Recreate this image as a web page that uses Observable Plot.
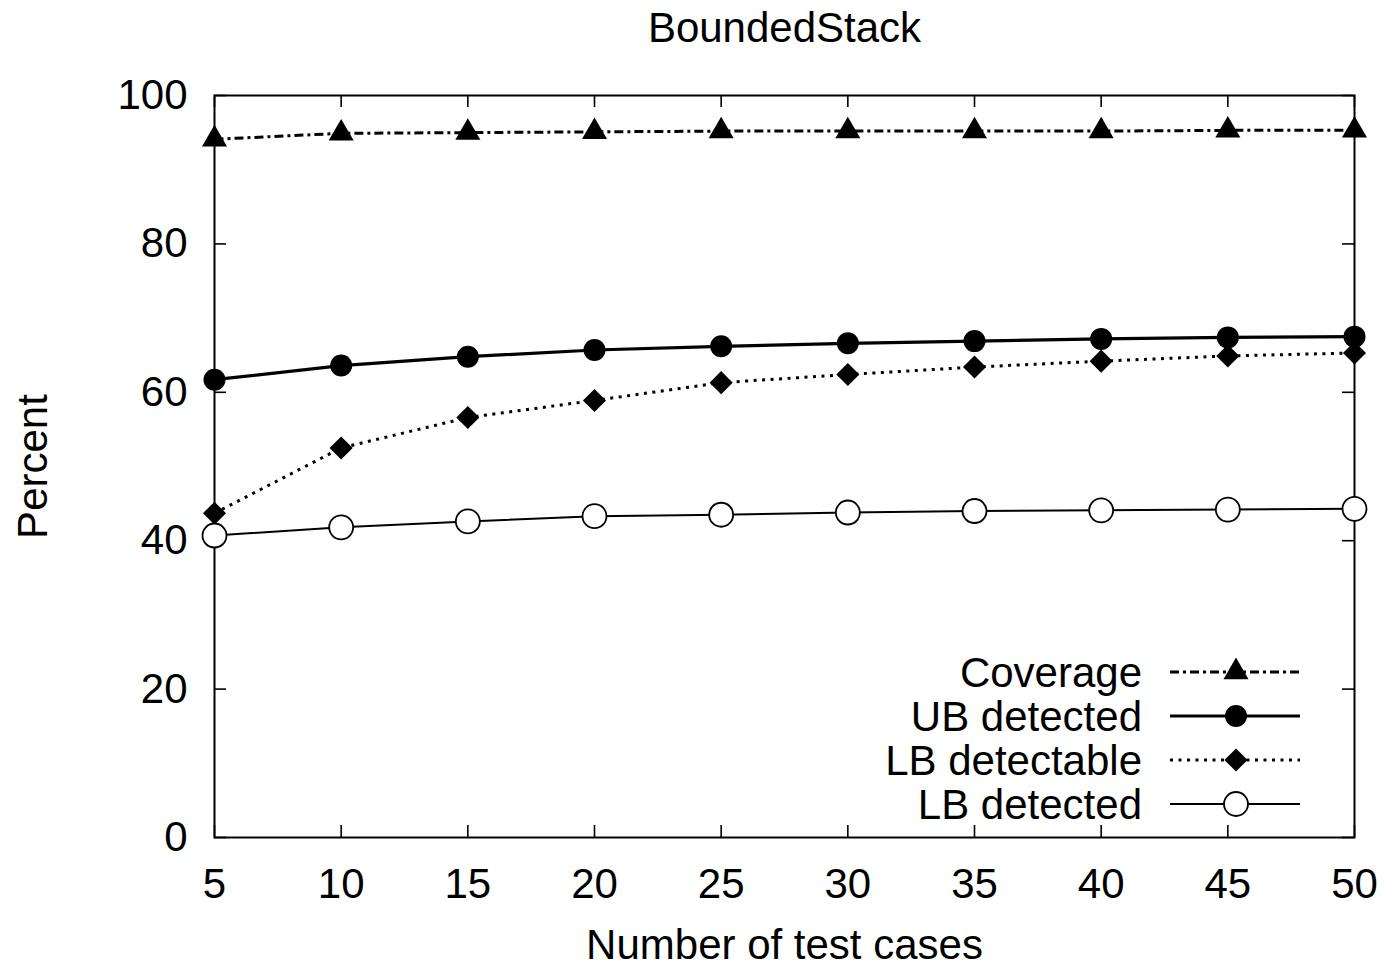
<!DOCTYPE html>
<html>
<head>
<meta charset="utf-8">
<script src="https://cdn.jsdelivr.net/npm/d3@7"></script>
<script src="https://cdn.jsdelivr.net/npm/@observablehq/plot@0.6"></script>
<style>
  html, body { margin: 0; padding: 0; background: #fff; }
  #chart { position: relative; width: 1388px; height: 969px; }
</style>
</head>
<body>
<div id="chart"></div>
<script>
const testCases = [5, 10, 15, 20, 25, 30, 35, 40, 45, 50];
const coverage = [94.1, 94.9, 95.0, 95.1, 95.2, 95.2, 95.2, 95.2, 95.3, 95.3];
const ubDetected = [61.7, 63.6, 64.8, 65.7, 66.2, 66.6, 66.9, 67.2, 67.4, 67.5];
const lbDetectable = [43.7, 52.5, 56.6, 58.9, 61.3, 62.4, 63.4, 64.2, 64.9, 65.3];
const lbDetected = [40.7, 41.8, 42.6, 43.3, 43.5, 43.8, 44.0, 44.1, 44.2, 44.3];
const yTicks = [0, 20, 40, 60, 80, 100];
const xTicks = testCases;
const title = "BoundedStack";
const xLabel = "Number of test cases";
const yLabel = "Percent";

const seriesDefs = [
  {name: "Coverage", values: coverage, symbol: "triangle", r: 9.3, fill: "black", stroke: "none", lineWidth: 3, dash: "9,4,3,4"},
  {name: "UB detected", values: ubDetected, symbol: "circle", r: 11, fill: "black", stroke: "none", lineWidth: 3.2, dash: null},
  {name: "LB detectable", values: lbDetectable, symbol: "diamond2", r: 10.4, fill: "black", stroke: "none", lineWidth: 3, dash: "3,5.5"},
  {name: "LB detected", values: lbDetected, symbol: "circle", r: 12, fill: "white", stroke: "black", lineWidth: 2, dash: null}
];

const W = 1388, H = 969;
const mL = 214, mR = 34, mT = 95, mB = 132;
const pw = W - mL - mR, ph = H - mT - mB;
const tickLen = 12;

const marks = [];
for (const s of seriesDefs) {
  const data = testCases.map((x, i) => ({x, y: s.values[i]}));
  marks.push(Plot.line(data, {x: "x", y: "y", stroke: "black", strokeWidth: s.lineWidth, strokeDasharray: s.dash || undefined, strokeLinecap: "butt"}));
}
// ticks (inward, mirrored)
marks.push(Plot.tickY(yTicks, {y: d => d, stroke: "black", strokeWidth: 1.6, insetRight: pw - tickLen}));
marks.push(Plot.tickY(yTicks, {y: d => d, stroke: "black", strokeWidth: 1.6, insetLeft: pw - tickLen}));
marks.push(Plot.tickX(xTicks, {x: d => d, stroke: "black", strokeWidth: 1.6, insetTop: ph - tickLen}));
marks.push(Plot.tickX(xTicks, {x: d => d, stroke: "black", strokeWidth: 1.6, insetBottom: ph - tickLen}));
marks.push(Plot.frame({stroke: "black", strokeWidth: 2}));
for (const s of seriesDefs) {
  const data = testCases.map((x, i) => ({x, y: s.values[i]}));
  marks.push(Plot.dot(data, {x: "x", y: "y", symbol: s.symbol, r: s.r, fill: s.fill, stroke: s.stroke, strokeWidth: 1.8}));
}
marks.push(Plot.axisY(yTicks, {tickSize: 0, tickPadding: 27, label: null, fontSize: 42}));
marks.push(Plot.axisX(xTicks, {tickSize: 0, tickPadding: 31, label: null, fontSize: 42}));
marks.push(Plot.text([title], {frameAnchor: "top", text: d => d, dy: -83, fontSize: 42}));
marks.push(Plot.text([xLabel], {frameAnchor: "bottom", text: d => d, dy: 121, fontSize: 42}));
marks.push(Plot.text([yLabel], {frameAnchor: "left", textAnchor: "middle", text: d => d, dx: -181, rotate: -90, fontSize: 42}));

const chart = Plot.plot({
  width: W, height: H,
  marginLeft: mL, marginRight: mR, marginTop: mT, marginBottom: mB,
  style: {fontFamily: "'Liberation Sans', Arial, sans-serif", fontSize: "42px", color: "black", background: "white"},
  x: {domain: [5, 50]},
  y: {domain: [0, 100]},
  marks
});
document.getElementById("chart").appendChild(chart);

// Legend inside the plot, bottom-right
const svg = d3.select(chart);
const lg = svg.append("g").attr("font-family", "'Liberation Sans', Arial, sans-serif").attr("font-size", 42);
const textRight = 1142, lineX1 = 1170, lineX2 = 1300, markerX = 1236;
const rowY = [672, 716, 760, 804];
const symMap = {triangle: d3.symbolTriangle, circle: d3.symbolCircle, diamond2: d3.symbolDiamond2};
seriesDefs.forEach((s, i) => {
  const y = rowY[i];
  lg.append("text").attr("x", textRight).attr("y", y).attr("dy", "0.35em").attr("text-anchor", "end").attr("fill", "black").text(s.name);
  lg.append("line").attr("x1", lineX1).attr("x2", lineX2).attr("y1", y).attr("y2", y)
    .attr("stroke", "black").attr("stroke-width", s.lineWidth).attr("stroke-dasharray", s.dash);
  lg.append("path").attr("transform", `translate(${markerX},${y})`)
    .attr("d", d3.symbol(symMap[s.symbol], Math.PI * s.r * s.r)())
    .attr("fill", s.fill).attr("stroke", s.stroke).attr("stroke-width", 1.8);
});
</script>
</body>
</html>
